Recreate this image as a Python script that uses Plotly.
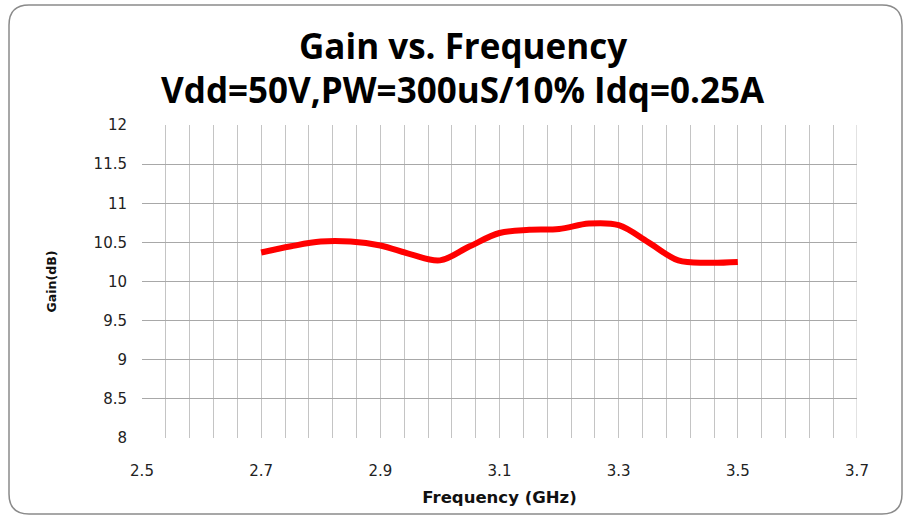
import plotly.graph_objects as go

freq_ghz = [2.70, 2.75, 2.80, 2.85, 2.90, 2.95, 3.00, 3.05, 3.10, 3.15, 3.20, 3.25, 3.30, 3.35, 3.40, 3.45, 3.50]
gain_db = [10.37, 10.45, 10.51, 10.51, 10.46, 10.35, 10.27, 10.45, 10.62, 10.66, 10.67, 10.74, 10.72, 10.50, 10.27, 10.24, 10.25]

x_ticks = [2.5, 2.7, 2.9, 3.1, 3.3, 3.5, 3.7]
y_ticks = [8, 8.5, 9, 9.5, 10, 10.5, 11, 11.5, 12]

title_line1 = "Gain vs. Frequency"
title_line2 = "Vdd=50V,PW=300uS/10% Idq=0.25A"

W, H = 907, 517
ML, MR, MT, MB = 142, 50, 125, 79
PW, PH = W - ML - MR, H - MT - MB


def px2paper(px, py):
    return (px - ML) / PW, (H - MB - py) / PH


def rounded_rect(x0, y0, x1, y1, r):
    def P(px, py):
        a, b = px2paper(px, py)
        return f"{a:.5f},{b:.5f}"
    d = (f"M {P(x0 + r, y0)} L {P(x1 - r, y0)} Q {P(x1, y0)} {P(x1, y0 + r)} "
         f"L {P(x1, y1 - r)} Q {P(x1, y1)} {P(x1 - r, y1)} "
         f"L {P(x0 + r, y1)} Q {P(x0, y1)} {P(x0, y1 - r)} "
         f"L {P(x0, y0 + r)} Q {P(x0, y0)} {P(x0 + r, y0)} Z")
    return d


fig = go.Figure()
fig.add_trace(go.Scatter(
    x=freq_ghz, y=gain_db, mode="lines",
    line=dict(color="#ff0000", width=6, shape="spline", smoothing=1.0),
    showlegend=False, hoverinfo="x+y",
))

grid_v = "#c4c4c4"
grid_h = "#a8a8a8"
tick_font = dict(family="DejaVu Sans", size=15, color="#222222")

fig.update_layout(
    width=W, height=H,
    margin=dict(l=ML, r=MR, t=MT, b=MB),
    paper_bgcolor="white", plot_bgcolor="white",
    xaxis=dict(
        range=[2.5, 3.7], tickvals=x_ticks, ticktext=[f"{v:g}" for v in x_ticks],
        showgrid=True, gridcolor=grid_v, gridwidth=1,
        minor=dict(dtick=0.04, tick0=2.5, showgrid=True, gridcolor=grid_v, gridwidth=1),
        zeroline=False, showline=False, ticks="", tickfont=tick_font,
        ticklabelstandoff=22,
        title=dict(text="<b>Frequency (GHz)</b>", font=dict(family="DejaVu Sans", size=16.5, color="#111111"), standoff=12),
    ),
    yaxis=dict(
        range=[8, 12], tickvals=y_ticks, ticktext=[f"{v:g}" for v in y_ticks],
        showgrid=True, gridcolor=grid_h, gridwidth=1,
        zeroline=False, showline=False, ticks="", tickfont=tick_font,
        ticklabelstandoff=14,
        title=dict(text="<b>Gain(dB)</b>", font=dict(family="DejaVu Sans", size=12.5, color="#111111"), standoff=34),
    ),
    annotations=[
        dict(text=f"<b>{title_line1}</b>", xref="paper", yref="paper",
             x=px2paper(463, 0)[0], y=px2paper(0, 46)[1], xanchor="center", yanchor="middle",
             showarrow=False, font=dict(family="Open Sans", size=35, color="#000000")),
        dict(text=f"<b>{title_line2}</b>", xref="paper", yref="paper",
             x=px2paper(463, 0)[0], y=px2paper(0, 89)[1], xanchor="center", yanchor="middle",
             showarrow=False, font=dict(family="Open Sans", size=35, color="#000000")),
    ],
    shapes=[
        dict(type="line", xref="x", yref="paper", x0=3.7, x1=3.7, y0=0, y1=1,
             line=dict(color=grid_v, width=1), layer="below"),
        dict(type="path", xref="paper", yref="paper", path=rounded_rect(9, 5, 902, 514, 20),
             line=dict(color="#8a8a8a", width=1.5), layer="above"),
    ],
)

fig.write_html("out.html", config={"displayModeBar": False},
               post_script="document.body.style.margin='0';document.body.style.padding='0';")
